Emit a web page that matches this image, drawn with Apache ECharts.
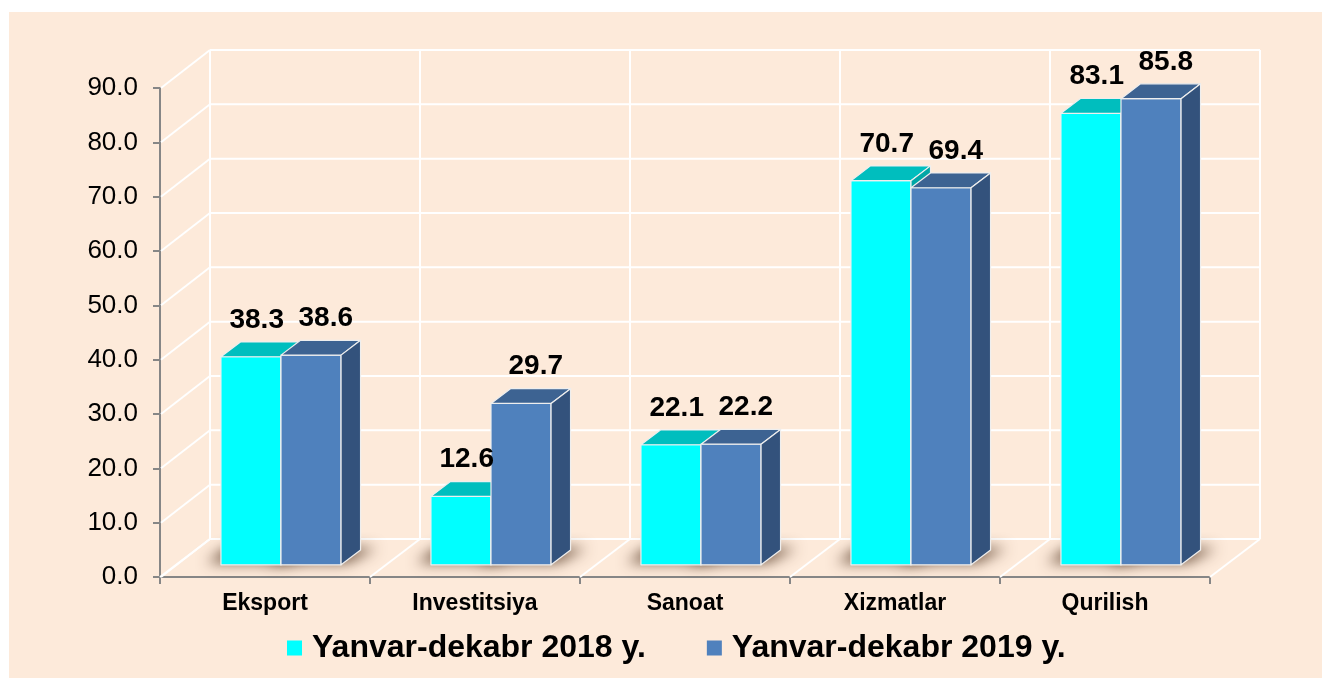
<!DOCTYPE html>
<html>
<head>
<meta charset="utf-8">
<script src="https://cdn.jsdelivr.net/npm/echarts@6/dist/echarts.min.js"></script>
<style>
  html, body { margin: 0; padding: 0; background: #fff; }
  #echart { width: 1322px; height: 678px; }
</style>
</head>
<body>
<div id="echart"></div>
<script>
const categories = ['Eksport', 'Investitsiya', 'Sanoat', 'Xizmatlar', 'Qurilish'];
const seriesNames = ['Yanvar-dekabr 2018 y.', 'Yanvar-dekabr 2019 y.'];
const values2018 = [38.3, 12.6, 22.1, 70.7, 83.1];
const values2019 = [38.6, 29.7, 22.2, 69.4, 85.8];
const yTicks = [0, 10, 20, 30, 40, 50, 60, 70, 80, 90];

// fake 3D box: depth vector of the walls, bars sit between FRONT and BACK of it
const DEPTH_X = 50, DEPTH_Y = -38;
const FRONT = 0.32, BACK = 0.71;
const FONT = 'Liberation Sans, Arial, sans-serif';
const FAR = 3000; // shadow shape drawn off screen, only its blur is moved back

var chartDom = document.getElementById('echart');
var myChart = echarts.init(chartDom);

function line(x1, y1, x2, y2) {
  return {
    type: 'line',
    shape: { x1: x1, y1: y1, x2: x2, y2: y2 },
    style: { stroke: '#ffffff', lineWidth: 2 }
  };
}

// horizontal grid: back wall line + left wall diagonal per tick
function wallLines(params, api) {
  var cs = params.coordSys;
  var y = api.coord([0, api.value(1)])[1];
  return {
    type: 'group',
    children: [
      line(cs.x + DEPTH_X, y + DEPTH_Y, cs.x + cs.width + DEPTH_X, y + DEPTH_Y),
      line(cs.x + 1, y, cs.x + DEPTH_X, y + DEPTH_Y)
    ]
  };
}

// vertical grid: back wall verticals + floor diagonals at category boundaries
function floorLines(params, api) {
  var cs = params.coordSys;
  var i = api.value(0);
  var band = api.size([1, 0])[0];
  var yFloor = cs.y + cs.height;
  var yTop = api.coord([0, yTicks[yTicks.length - 1]])[1];
  var xs = [api.coord([i, 0])[0] - band / 2];
  if (i === categories.length - 1) xs.push(api.coord([i, 0])[0] + band / 2);
  var children = [];
  xs.forEach(function (x) {
    children.push(line(x + DEPTH_X, yFloor + DEPTH_Y, x + DEPTH_X, yTop + DEPTH_Y));
    children.push(line(x, yFloor, x + DEPTH_X, yFloor + DEPTH_Y));
  });
  return { type: 'group', children: children };
}

function barRenderer(idx, c) {
  return function (params, api) {
    var i = api.value(0), v = api.value(1);
    var base = api.coord([i, 0]);
    var top = api.coord([i, v]);
    var band = api.size([1, 0])[0];
    var w = band * 0.286;
    var cx = base[0] + DEPTH_X * FRONT;
    var x0 = idx === 0 ? cx - w : cx;
    var x1 = x0 + w;
    var yb = base[1] + DEPTH_Y * FRONT;
    var yt = top[1] + DEPTH_Y * FRONT;
    var dx = DEPTH_X * (BACK - FRONT), dy = DEPTH_Y * (BACK - FRONT);
    var edge = { stroke: '#eeeeee', lineWidth: 1.2, lineJoin: 'round' };
    var labelShift = idx === 0 ? -4 : 5;
    return {
      type: 'group',
      children: [
        {
          type: 'polygon', z2: -1,
          shape: { points: [[x0 - 14 - FAR, yb - 2], [x1 + 6 - FAR, yb - 2], [x1 + dx + 16 - FAR, yb + dy - 2], [x0 + dx - 14 - FAR, yb + dy - 2]] },
          style: { fill: '#000', shadowBlur: 14, shadowOffsetX: FAR, shadowColor: 'rgba(85,55,35,0.85)' }
        },
        {
          type: 'rect',
          shape: { x: x0, y: yt, width: w, height: yb - yt },
          style: Object.assign({ fill: c.front }, edge)
        },
        {
          type: 'polygon',
          shape: { points: [[x0, yt], [x1, yt], [x1 + dx, yt + dy], [x0 + dx, yt + dy]] },
          style: Object.assign({ fill: c.top }, edge)
        },
        {
          type: 'polygon',
          shape: { points: [[x1, yt], [x1 + dx, yt + dy], [x1 + dx, yb + dy], [x1, yb]] },
          style: Object.assign({ fill: c.side }, edge)
        },
        {
          type: 'text', z2: 100,
          x: (x0 + x1) / 2 + dx / 2 + labelShift,
          y: yt + dy - 8,
          style: {
            text: v.toFixed(1), fill: '#000', fontSize: 28, fontWeight: 'bold',
            fontFamily: FONT, align: 'center', verticalAlign: 'bottom'
          }
        }
      ]
    };
  };
}

var colors2018 = { front: '#00FFFF', top: '#00BEBE', side: '#00A6A6' };
var colors2019 = { front: '#4F81BD', top: '#3D6392', side: '#33527C' };

var option = {
  backgroundColor: '#ffffff',
  animation: false,
  graphic: [{
    type: 'rect', z: -10, silent: true,
    shape: { x: 9, y: 12, width: 1313, height: 666 },
    style: { fill: '#FDEADA' }
  }],
  grid: { left: 160, top: 88, width: 1050, height: 489 },
  legend: {
    data: seriesNames,
    left: 282,
    top: 627,
    icon: 'rect',
    itemWidth: 15,
    itemHeight: 15,
    itemGap: 61,
    textStyle: { fontSize: 32, fontWeight: 'bold', color: '#000', fontFamily: FONT, padding: [0, 0, 0, 5] }
  },
  xAxis: {
    type: 'category',
    data: categories,
    axisLine: { show: true, lineStyle: { color: '#868686', width: 2 } },
    axisTick: { show: true, length: 7, lineStyle: { color: '#868686', width: 2 } },
    axisLabel: { color: '#000', fontSize: 23, fontWeight: 'bold', fontFamily: FONT, margin: 15 },
    splitLine: { show: false }
  },
  yAxis: {
    type: 'value',
    min: 0,
    max: 90,
    interval: 10,
    axisLine: { show: true, lineStyle: { color: '#868686', width: 2 } },
    axisTick: { show: true, length: 7, lineStyle: { color: '#868686', width: 2 } },
    axisLabel: { color: '#000', fontSize: 26, fontFamily: FONT, margin: 22, formatter: function (v) { return v.toFixed(1); } },
    splitLine: { show: false }
  },
  series: [
    {
      type: 'custom', name: 'walls', silent: true, z: 1,
      renderItem: wallLines,
      data: yTicks.map(function (t) { return [0, t]; })
    },
    {
      type: 'custom', name: 'floor', silent: true, z: 1,
      renderItem: floorLines,
      data: categories.map(function (c, i) { return [i, 0]; })
    },
    {
      type: 'custom', name: seriesNames[0], z: 2,
      itemStyle: { color: colors2018.front },
      renderItem: barRenderer(0, colors2018),
      data: values2018.map(function (v, i) { return [i, v]; })
    },
    {
      type: 'custom', name: seriesNames[1], z: 2,
      itemStyle: { color: colors2019.front },
      renderItem: barRenderer(1, colors2019),
      data: values2019.map(function (v, i) { return [i, v]; })
    }
  ]
};

option && myChart.setOption(option);
</script>
</body>
</html>
